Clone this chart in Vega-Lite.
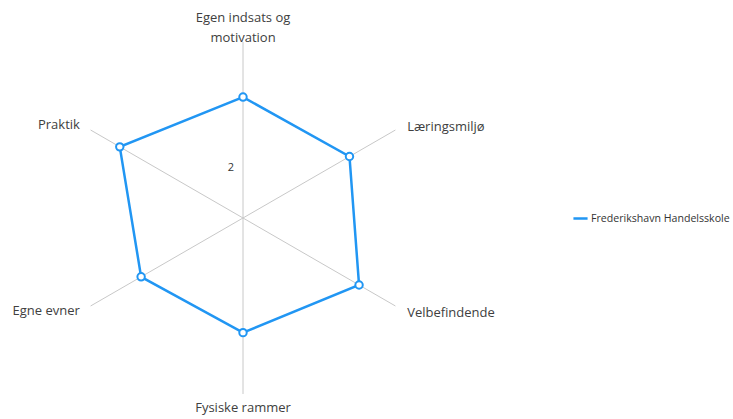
{
  "$schema": "https://vega.github.io/schema/vega-lite/v6.json",
  "width": 733,
  "height": 419,
  "padding": 0,
  "autosize": {"type": "none"},
  "background": "white",
  "config": {"view": {"stroke": null}, "font": "Open Sans"},
  "datasets": {
    "radar": [
      {"category": "Egen indsats og motivation", "idx": 0, "value": 4.81, "series": "Frederikshavn Handelsskole"},
      {"category": "Læringsmiljø", "idx": 1, "value": 4.89, "series": "Frederikshavn Handelsskole"},
      {"category": "Velbefindende", "idx": 2, "value": 5.33, "series": "Frederikshavn Handelsskole"},
      {"category": "Fysiske rammer", "idx": 3, "value": 4.56, "series": "Frederikshavn Handelsskole"},
      {"category": "Egne evner", "idx": 4, "value": 4.68, "series": "Frederikshavn Handelsskole"},
      {"category": "Praktik", "idx": 5, "value": 5.66, "series": "Frederikshavn Handelsskole"}
    ]
  },
  "data": {"name": "radar"},
  "transform": [
    {"calculate": "datum.value * sin(datum.idx * PI / 3)", "as": "px"},
    {"calculate": "datum.value * cos(datum.idx * PI / 3)", "as": "py"},
    {"calculate": "7 * sin(datum.idx * PI / 3)", "as": "ax"},
    {"calculate": "7 * cos(datum.idx * PI / 3)", "as": "ay"},
    {"calculate": "7.4 * sin(datum.idx * PI / 3)", "as": "lx"},
    {"calculate": "7.4 * cos(datum.idx * PI / 3)", "as": "ly"}
  ],
  "layer": [
    {
      "mark": {"type": "rule", "color": "#c8c8c8", "strokeWidth": 1},
      "encoding": {
        "x": {"field": "ax", "type": "quantitative", "scale": {"domain": [-9.666, 19.49], "nice": false, "zero": false}, "axis": null},
        "y": {"field": "ay", "type": "quantitative", "scale": {"domain": [-7.995, 8.671], "nice": false, "zero": false}, "axis": null},
        "x2": {"datum": 0},
        "y2": {"datum": 0}
      }
    },
    {
      "mark": {"type": "line", "interpolate": "linear-closed", "strokeWidth": 2.5},
      "encoding": {
        "x": {"field": "px", "type": "quantitative", "scale": {"domain": [-9.666, 19.49], "nice": false, "zero": false}, "axis": null},
        "y": {"field": "py", "type": "quantitative", "scale": {"domain": [-7.995, 8.671], "nice": false, "zero": false}, "axis": null},
        "order": {"field": "idx"},
        "color": {
          "field": "series", "type": "nominal",
          "scale": {"domain": ["Frederikshavn Handelsskole"], "range": ["#2196f3"]},
          "legend": {
            "title": null, "orient": "none", "legendX": 572, "legendY": 210,
            "symbolType": "stroke", "symbolSize": 200, "symbolStrokeWidth": 2.5,
            "labelFontSize": 10.6, "labelColor": "#333333", "labelFont": "Open Sans", "labelOffset": 2, "padding": 0, "labelLimit": 300
          }
        }
      }
    },
    {
      "mark": {"type": "point", "filled": true, "fill": "white", "stroke": "#2196f3", "strokeWidth": 2, "size": 55, "opacity": 1},
      "encoding": {
        "x": {"field": "px", "type": "quantitative", "scale": {"domain": [-9.666, 19.49], "nice": false, "zero": false}, "axis": null},
        "y": {"field": "py", "type": "quantitative", "scale": {"domain": [-7.995, 8.671], "nice": false, "zero": false}, "axis": null}
      }
    },
    {
      "transform": [{"filter": "datum.idx == 1 || datum.idx == 2"}],
      "mark": {"type": "text", "align": "left", "baseline": "middle", "dx": 3, "dy": 2, "fontSize": 13, "color": "#404040"},
      "encoding": {
        "x": {"field": "lx", "type": "quantitative", "scale": {"domain": [-9.666, 19.49], "nice": false, "zero": false}, "axis": null},
        "y": {"field": "ly", "type": "quantitative", "scale": {"domain": [-7.995, 8.671], "nice": false, "zero": false}, "axis": null},
        "text": {"field": "category"}
      }
    },
    {
      "transform": [{"filter": "datum.idx == 4 || datum.idx == 5"}],
      "mark": {"type": "text", "align": "right", "baseline": "middle", "dx": -2, "dy": 0, "fontSize": 13, "color": "#404040"},
      "encoding": {
        "x": {"field": "lx", "type": "quantitative", "scale": {"domain": [-9.666, 19.49], "nice": false, "zero": false}, "axis": null},
        "y": {"field": "ly", "type": "quantitative", "scale": {"domain": [-7.995, 8.671], "nice": false, "zero": false}, "axis": null},
        "text": {"field": "category"}
      }
    },
    {
      "transform": [
        {"filter": "datum.idx == 0"},
        {"calculate": "[slice(datum.category, 0, 15), slice(datum.category, 16)]", "as": "lbl"}
      ],
      "mark": {"type": "text", "align": "center", "baseline": "middle", "dy": -24, "lineHeight": 20, "fontSize": 13, "color": "#404040"},
      "encoding": {
        "x": {"field": "ax", "type": "quantitative", "scale": {"domain": [-9.666, 19.49], "nice": false, "zero": false}, "axis": null},
        "y": {"field": "ay", "type": "quantitative", "scale": {"domain": [-7.995, 8.671], "nice": false, "zero": false}, "axis": null},
        "text": {"field": "lbl"}
      }
    },
    {
      "transform": [{"filter": "datum.idx == 3"}],
      "mark": {"type": "text", "align": "center", "baseline": "middle", "dy": 14, "fontSize": 13, "color": "#404040"},
      "encoding": {
        "x": {"field": "ax", "type": "quantitative", "scale": {"domain": [-9.666, 19.49], "nice": false, "zero": false}, "axis": null},
        "y": {"field": "ay", "type": "quantitative", "scale": {"domain": [-7.995, 8.671], "nice": false, "zero": false}, "axis": null},
        "text": {"field": "category"}
      }
    },
    {
      "data": {"values": [{"tick": 2}]},
      "mark": {"type": "text", "align": "right", "baseline": "middle", "dx": -9, "fontSize": 11, "color": "#333333"},
      "encoding": {
        "x": {"datum": 0, "type": "quantitative", "scale": {"domain": [-9.666, 19.49], "nice": false, "zero": false}},
        "y": {"field": "tick", "type": "quantitative", "scale": {"domain": [-7.995, 8.671], "nice": false, "zero": false}, "axis": null},
        "text": {"field": "tick"}
      }
    }
  ]
}
